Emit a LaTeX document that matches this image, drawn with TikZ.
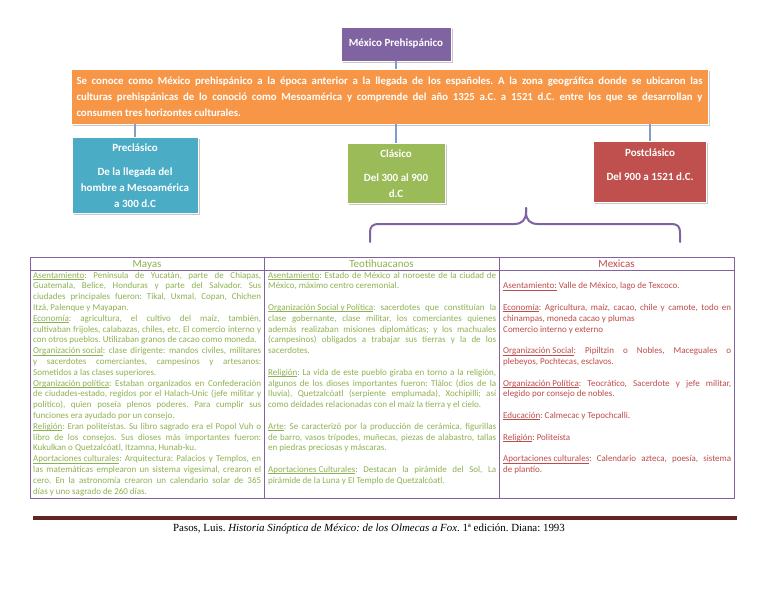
\documentclass[tikz,border=0pt]{standalone}
\usepackage{fontspec}
\setmainfont{Carlito}
\newfontfamily\footfont{Liberation Serif}
\usetikzlibrary{shadows}
\definecolor{boxpurple}{HTML}{8064A2}
\definecolor{boxorange}{HTML}{F79646}
\definecolor{boxblue}{HTML}{4BACC6}
\definecolor{boxgreen}{HTML}{9BBB59}
\definecolor{boxred}{HTML}{C0504D}
\definecolor{txtgreen}{HTML}{8DB251}
\definecolor{txtred}{HTML}{BF4B4B}
\definecolor{linkblue}{HTML}{7F9FC8}
\definecolor{bracepurple}{HTML}{7F63A1}
\definecolor{tblpurple}{HTML}{8064A2}
\definecolor{footred}{HTML}{632523}
\frenchspacing
\newcommand\myul[1]{\setbox0\hbox{#1}\rlap{\rule[-1.5pt]{\wd0}{0.55pt}}\box0\relax}
\newcommand\jline[1]{\hbox to \linewidth{#1}}
\newcommand\eline[1]{\hbox{#1}}
\newcommand\bline{\hbox{}}
\tikzset{
  cbox/.style={inner sep=0pt, draw=white, line width=0.8pt,
    drop shadow={shadow xshift=1.5pt, shadow yshift=-2pt, opacity=0.3, fill=black!70}},
  boxtext/.style={inner sep=0pt, text=white, align=center, font=\bfseries\fontsize{11}{16}\selectfont},
  link/.style={draw=linkblue, line width=1.3pt},
  brace/.style={draw=bracepurple, line width=2pt, line cap=round},
  tbl/.style={draw=tblpurple, line width=1pt},
  hdr/.style={inner sep=0pt, anchor=base, font=\fontsize{11}{13}\selectfont},
  coltext/.style={inner sep=0pt, anchor=base west, font=\fontsize{9}{10.8}\selectfont},
}
\begin{document}
\begin{tikzpicture}[x=1pt, y=-1pt]
\fill[white] (0,0) rectangle (768,594);
\useasboundingbox (0,0) rectangle (768,594);

% boxes
\node[cbox, fill=boxpurple, minimum width=110pt, minimum height=34pt, boxtext] (mx) at (396,44) {México Prehispánico};
\node[cbox, fill=boxorange, minimum width=637pt, minimum height=55pt, text=white, font=\bfseries\fontsize{10.8}{16}\selectfont] (ora) at (389.5,96.5) {\parbox{626pt}{%
\jline{Se conoce como México prehispánico a la época anterior a la llegada de los españoles. A la zona geográfica donde se ubicaron las}
\jline{culturas prehispánicas de lo conoció como Mesoamérica y comprende del año 1325 a.C. a 1521 d.C. entre los que se desarrollan y}
\eline{consumen tres horizontes culturales.}}};
\node[cbox, fill=boxblue, minimum width=126pt, minimum height=76pt] (pre) at (135,175) {};
\node[cbox, fill=boxgreen, minimum width=98pt, minimum height=60pt] (cla) at (396,173) {};
\node[cbox, fill=boxred, minimum width=113pt, minimum height=61pt] (post) at (650,171.5) {};
\node[boxtext] (preT) at (135,176) {Preclásico\\[8pt]De la llegada del\\hombre a Mesoamérica\\a 300 d.C};
\node[boxtext] (claT) at (396,174) {Clásico\\[8pt]Del 300 al 900\\d.C};
\node[boxtext] (postT) at (650,165) {Postclásico\\[8pt]Del 900 a 1521 d.C.};

% connectors
\draw[link] (mx.south) -- (mx.south |- ora.north);
\draw[link] (pre.north |- ora.south) -- (pre.north);
\draw[link] (cla.north |- ora.south) -- (cla.north);
\draw[link] (post.north |- ora.south) -- (post.north);

% brace
\coordinate (bL) at (370,242);
\coordinate (bT) at (526,208);
\coordinate (bR) at (680,242);
\draw[brace] (bL) -- (370,234) .. controls (370,226) and (372,224) .. (380,224) -- (514,224)
  .. controls (522,224) and (526,220) .. (526,212) -- (bT);
\draw[brace] (bT) -- (526,212) .. controls (526,220) and (530,224) .. (538,224) -- (670,224)
  .. controls (678,224) and (680,226) .. (680,234) -- (bR);

% table
\draw[tbl] (30,257) rectangle (734,498);
\draw[tbl] (30,270) -- (734,270);
\draw[tbl] (264,257) -- (264,498);
\draw[tbl] (499,257) -- (499,498);
\node[hdr, text=txtgreen] (hMay) at (147,267.5) {Mayas};
\node[hdr, text=txtgreen] (hTeo) at (381.5,267.5) {Teotihuacanos};
\node[hdr, text=txtred] (hMex) at (616.5,267.5) {Mexicas};

\node[coltext, text=txtgreen] (cMay) at (33,278) {\parbox[t]{228pt}{%
\jline{\myul{Asentamiento}: Península de Yucatán, parte de Chiapas,}
\jline{Guatemala, Belice, Honduras y parte del Salvador. Sus}
\jline{ciudades principales fueron: Tikal, Uxmal, Copan, Chichen}
\eline{Itzá, Palenque y Mayapan.}
\jline{\myul{Economía}: agricultura, el cultivo del maíz, también,}
\jline{cultivaban frijoles, calabazas, chiles, etc. El comercio interno y}
\eline{con otros pueblos. Utilizaban granos de cacao como moneda.}
\jline{\myul{Organización social}: clase dirigente: mandos civiles, militares}
\jline{y sacerdotes comerciantes, campesinos y artesanos:}
\eline{Sometidos a las clases superiores.}
\jline{\myul{Organización política}: Estaban organizados en Confederación}
\jline{de ciudades-estado, regidos por el Halach-Unic (jefe militar y}
\jline{político), quien poseía plenos poderes. Para cumplir sus}
\eline{funciones era ayudado por un consejo.}
\jline{\myul{Religión}: Eran politeístas. Su libro sagrado era el Popol Vuh o}
\jline{libro de los consejos. Sus dioses más importantes fueron:}
\eline{Kukulkan o Quetzalcóatl, Itzamna, Hunab-ku.}
\jline{\myul{Aportaciones culturales}: Arquitectura: Palacios y Templos, en}
\jline{las matemáticas emplearon un sistema vigesimal, crearon el}
\jline{cero. En la astronomía crearon un calendario solar de 365}
\eline{días y uno sagrado de 260 días.}}};

\node[coltext, text=txtgreen] (cTeo) at (268,278) {\parbox[t]{228pt}{%
\jline{\myul{Asentamiento}: Estado de México al noroeste de la ciudad de}
\eline{México, máximo centro ceremonial.}
\bline
\jline{\myul{Organización Social y Política}: sacerdotes que constituían la}
\jline{clase gobernante, clase militar, los comerciantes quienes}
\jline{además realizaban misiones diplomáticas; y los machuales}
\jline{(campesinos) obligados a trabajar sus tierras y la de los}
\eline{sacerdotes.}
\bline
\jline{\myul{Religión}: La vida de este pueblo giraba en torno a la religión,}
\jline{algunos de los dioses importantes fueron: Tláloc (dios de la}
\jline{lluvia), Quetzalcóatl (serpiente emplumada), Xochipilli; así}
\eline{como deidades relacionadas con el maíz la tierra y el cielo.}
\bline
\jline{\myul{Arte}: Se caracterizó por la producción de cerámica, figurillas}
\jline{de barro, vasos trípodes, muñecas, piezas de alabastro, tallas}
\eline{en piedras preciosas y máscaras.}
\bline
\jline{\myul{Aportaciones Culturales}: Destacan la pirámide del Sol, La}
\eline{pirámide de la Luna y El Templo de Quetzalcóatl.}}};

\node[coltext, text=txtred] (cMex) at (503,278) {\parbox[t]{228pt}{%
\bline
\eline{\myul{Asentamiento:} Valle de México, lago de Texcoco.}
\bline
\jline{\myul{Economía}: Agricultura, maíz, cacao, chile y camote, todo en}
\eline{chinampas, moneda cacao y plumas}
\eline{Comercio interno y externo}
\bline
\jline{\myul{Organización Social}: Pipiltzin o Nobles, Maceguales o}
\eline{plebeyos, Pochtecas, esclavos.}
\bline
\jline{\myul{Organización Política}: Teocrático, Sacerdote y jefe militar,}
\eline{elegido por consejo de nobles.}
\bline
\eline{\myul{Educación}: Calmecac y Tepochcalli.}
\bline
\eline{\myul{Religión}: Politeísta}
\bline
\jline{\myul{Aportaciones culturales}: Calendario azteca, poesía, sistema}
\eline{de plantío.}}};

% footer
\draw[draw=footred, line width=3.5pt] (33,518) -- (737,518);
\node[inner sep=0pt, font=\footfont\fontsize{10.9}{12}\selectfont] (foot) at (369,529)
  {Pasos, Luis. \textit{Historia Sinóptica de México: de los Olmecas a Fox}. 1ª edición. Diana: 1993};
\end{tikzpicture}
\end{document}
